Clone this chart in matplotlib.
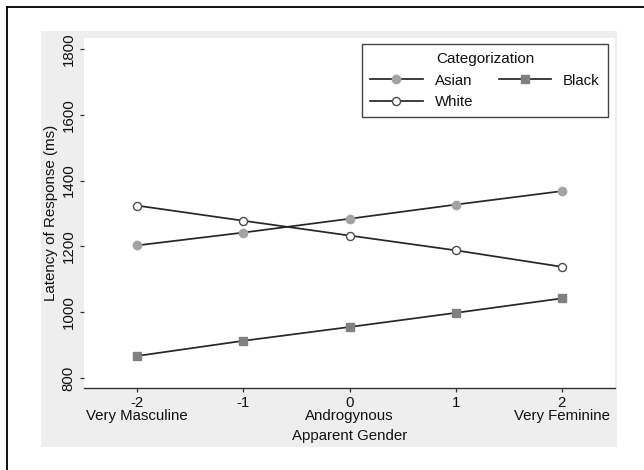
"""
Latency of response by apparent gender and categorization (Stata-style line plot)
"""
import matplotlib
matplotlib.use('Agg')
import matplotlib.pyplot as plt
from matplotlib.lines import Line2D
from matplotlib.patches import Rectangle

plt.rcParams['font.family'] = ['Liberation Sans', 'DejaVu Sans']

# Data
gender = [-2, -1, 0, 1, 2]
gender_labels = ['-2\nVery Masculine', '-1', '0\nAndrogynous', '1', '2\nVery Feminine']
asian = [1203, 1242, 1284, 1327, 1368]
white = [1324, 1278, 1233, 1188, 1138]
black = [867, 913, 955, 998, 1042]
y_ticks = [800, 1000, 1200, 1400, 1600, 1800]

W, H = 644, 470
fig = plt.figure(figsize=(W / 100, H / 100), dpi=100)
fig.patch.set_facecolor('white')

# light gray graph region
fig.patches.append(Rectangle((41 / W, 1 - 447 / H), (617 - 41) / W, (447 - 31) / H,
                             transform=fig.transFigure, facecolor='#eeeeee',
                             edgecolor='none', zorder=-5))
# frame lines (only left and top visible)
fig.lines.append(Line2D([7 / W, 7 / W], [0, 1 - 7 / H], transform=fig.transFigure,
                        color='black', linewidth=1.3))
fig.lines.append(Line2D([7 / W, 1], [1 - 7 / H, 1 - 7 / H], transform=fig.transFigure,
                        color='black', linewidth=1.3))

ax = fig.add_axes([84 / W, 1 - 388 / H, (615 - 84) / W, (388 - 38) / H])
ax.set_facecolor('white')

line_color = '#262626'
ax.plot(gender, asian, color=line_color, linewidth=1.25, marker='o', markersize=6,
        markerfacecolor='#a3a3a3', markeredgecolor='#a3a3a3', label='Asian')
ax.plot(gender, white, color=line_color, linewidth=1.25, marker='o', markersize=5.8,
        markerfacecolor='white', markeredgecolor='#4d4d4d', markeredgewidth=1.0,
        label='White')
ax.plot(gender, black, color=line_color, linewidth=1.25, marker='s', markersize=5.4,
        markerfacecolor='#808080', markeredgecolor='#808080', label='Black')

ax.set_xlim(-2.5, 2.5)
ax.set_ylim(769.6, 1833.4)

for side in ['left', 'top', 'right']:
    ax.spines[side].set_visible(False)
ax.spines['bottom'].set_color('#333333')
ax.spines['bottom'].set_linewidth(1.0)

ax.set_xticks(gender)
ax.set_xticklabels(gender_labels)
ax.set_yticks(y_ticks)
ax.set_yticklabels([str(v) for v in y_ticks], rotation=90, va='center')
ax.tick_params(axis='both', labelsize=10.8, colors='#333333', labelcolor='#111111',
               length=3, width=0.9, pad=3)
for lbl in ax.get_xticklabels():
    lbl.set_linespacing(0.92)

ax.set_xlabel('Apparent Gender', fontsize=10.8, color='#111111')
ax.xaxis.set_label_coords(0.5, -0.137)
ax.xaxis.label.set_va('center')
ax.set_ylabel('Latency of Response (ms)', fontsize=10.9, color='#111111')
ax.yaxis.set_label_coords(-0.062, 0.5)
ax.yaxis.label.set_va('center')

leg = ax.legend(ncol=2, title='Categorization', loc='upper right',
                bbox_to_anchor=(0.987, 0.983), borderaxespad=0, fontsize=10.8,
                title_fontsize=11, handlelength=3.5, handletextpad=0.8,
                columnspacing=1.7, labelspacing=0.5, borderpad=0.55,
                fancybox=False, framealpha=1, edgecolor='#444444',
                labelcolor='#111111')
leg.get_frame().set_linewidth(1.0)
leg.get_title().set_color('#111111')

fig.savefig('out.png', dpi=100, facecolor='white')
